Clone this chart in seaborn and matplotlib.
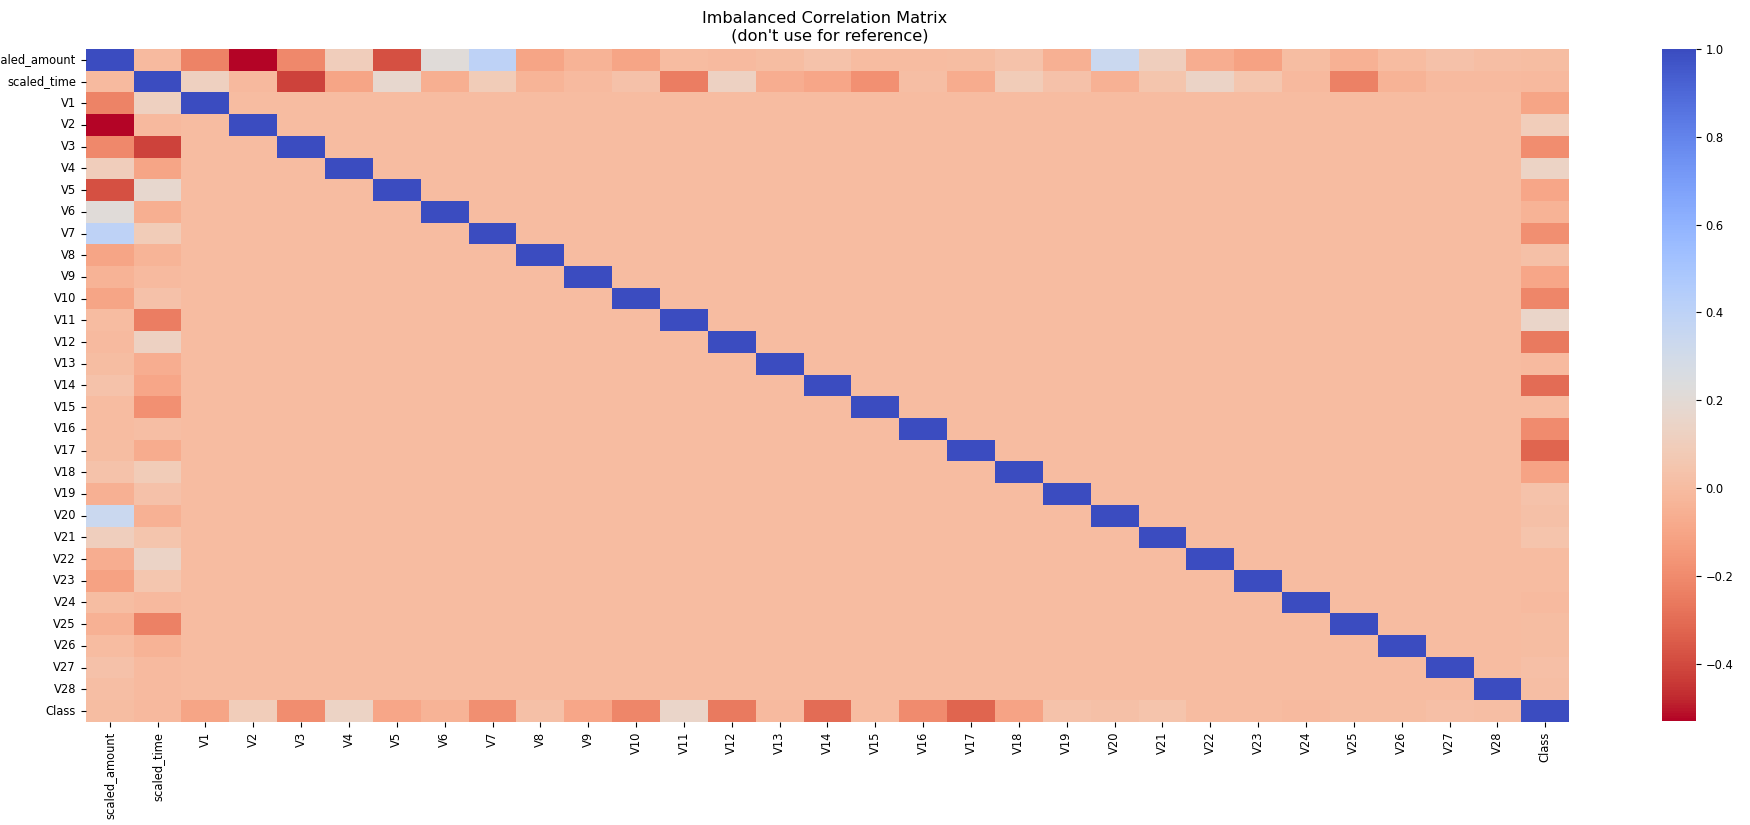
import numpy as np
import pandas as pd
import seaborn as sns
import matplotlib
matplotlib.use("Agg")
import matplotlib.pyplot as plt

# Column order of the correlation matrix
v_cols = ["V" + str(i) for i in range(1, 29)]
labels = ["scaled_amount", "scaled_time"] + v_cols + ["Class"]

# Correlation of scaled_amount with scaled_time
amount_time = -0.0106

# Correlations with V1..V28
amount_v = [-0.228, -0.531, -0.211, 0.099, -0.386, 0.216, 0.397, -0.103, -0.044, -0.102,
            0.000, -0.010, 0.005, 0.034, -0.003, -0.004, 0.007, 0.036, -0.056, 0.339,
            0.106, -0.065, -0.113, 0.005, -0.048, -0.003, 0.029, 0.010]
time_v = [0.117, -0.011, -0.420, -0.105, 0.173, -0.063, 0.085, -0.037, -0.009, 0.031,
          -0.248, 0.124, -0.066, -0.099, -0.184, 0.012, -0.073, 0.090, 0.029, -0.051,
          0.045, 0.144, 0.051, -0.016, -0.233, -0.041, -0.005, -0.009]
class_v = [-0.101, 0.091, -0.193, 0.133, -0.095, -0.044, -0.187, 0.020, -0.098, -0.217,
           0.155, -0.261, -0.005, -0.303, -0.004, -0.197, -0.327, -0.112, 0.035, 0.020,
           0.040, 0.001, -0.003, -0.007, 0.003, 0.005, 0.018, 0.010]

# Correlations of Class with scaled_amount and scaled_time
class_amount = 0.0056
class_time = -0.0123

# build the symmetric matrix (V columns are PCA components -> uncorrelated)
n = len(labels)
mat = np.eye(n)
mat[0, 1] = mat[1, 0] = amount_time
mat[0, 2:30] = mat[2:30, 0] = amount_v
mat[1, 2:30] = mat[2:30, 1] = time_v
mat[30, 2:30] = mat[2:30, 30] = class_v
mat[30, 0] = mat[0, 30] = class_amount
mat[30, 1] = mat[1, 30] = class_time
corr = pd.DataFrame(mat, index=labels, columns=labels)

fig = plt.figure(figsize=(17.5, 8.25), dpi=100)
ax = fig.add_axes([0.049, 0.125, 0.8477, 0.8156])
cbar_ax = fig.add_axes([0.9497, 0.126, 0.0194, 0.8146])

sns.heatmap(corr, cmap="coolwarm_r", annot_kws={"size": 20}, ax=ax, cbar_ax=cbar_ax,
            xticklabels=True, yticklabels=True)
ax.set_title("Imbalanced Correlation Matrix \n (don't use for reference)", fontsize=11.6)
ax.tick_params(axis="both", labelsize=8.3)
cbar_ax.tick_params(labelsize=8.3)

plt.savefig("out.png", dpi=100)
